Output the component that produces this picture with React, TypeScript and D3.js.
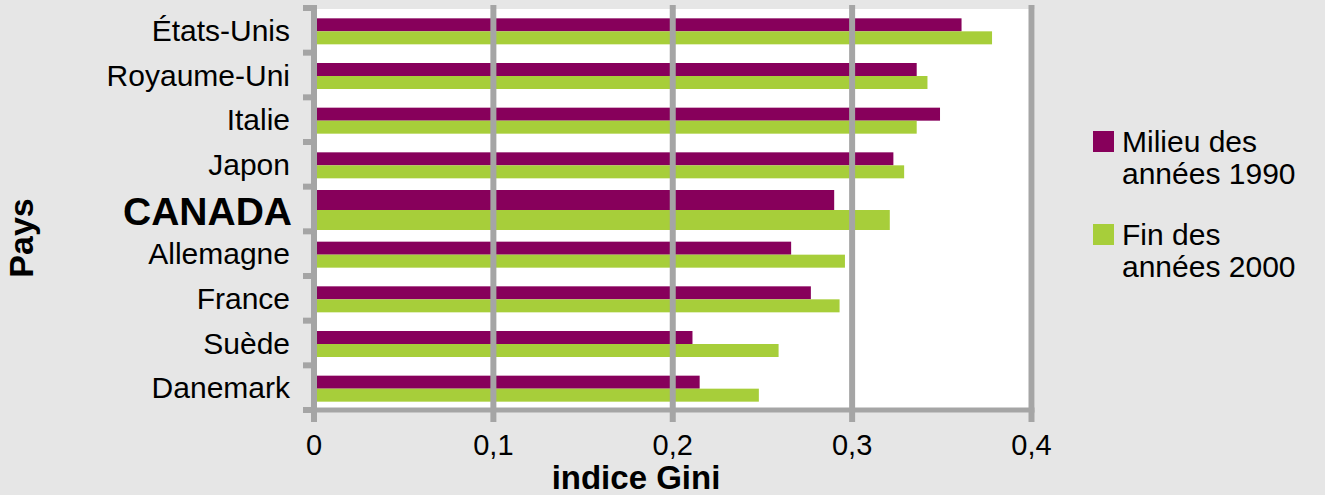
import React, { useEffect, useRef } from 'react';
import * as d3 from 'd3';

const countries = ['États-Unis', 'Royaume-Uni', 'Italie', 'Japon', 'CANADA', 'Allemagne', 'France', 'Suède', 'Danemark'];
const mid1990s = [0.361, 0.336, 0.349, 0.323, 0.290, 0.266, 0.277, 0.211, 0.215];
const late2000s = [0.378, 0.342, 0.336, 0.329, 0.321, 0.296, 0.293, 0.259, 0.248];
const xTicks = [0, 0.1, 0.2, 0.3, 0.4];
const seriesNames = [['Milieu des', 'années 1990'], ['Fin des', 'années 2000']];
const seriesColors = ['#87005b', '#a7ce3a'];

const FONT = '"Liberation Sans", Arial, Helvetica, sans-serif';
const GRID = '#a5a5a5';

const App: React.FC = () => {
  const svgRef = useRef<SVGSVGElement | null>(null);

  useEffect(() => {
    if (!svgRef.current) return;
    const svg = d3.select(svgRef.current);
    svg.selectAll('*').remove();

    const width = 1325;
    const height = 495;
    const left = 314;
    const right = 1031.5;
    const top = 8;
    const bottom = 410;

    svg.append('rect').attr('width', width).attr('height', height).attr('fill', '#e6e6e6');

    const x = d3.scaleLinear().domain([0, 0.4]).range([left, right]);
    const y = d3.scaleBand().domain(countries).range([top, bottom]);

    // plot area
    svg.append('rect')
      .attr('x', left).attr('y', top + 1)
      .attr('width', right - left + 3).attr('height', bottom - top - 1)
      .attr('fill', '#ffffff');

    // bars
    const series = [mid1990s, late2000s];
    countries.forEach((c, i) => {
      const h = c === 'CANADA' ? 20 : 13;
      const cy = (y(c) || 0) + y.bandwidth() / 2 + 1;
      series.forEach((vals, s) => {
        svg.append('rect')
          .attr('x', x(0))
          .attr('y', cy - h + s * h)
          .attr('width', x(vals[i]) - x(0))
          .attr('height', h)
          .attr('fill', seriesColors[s]);
      });
    });

    // vertical gridlines (with ticks below the axis)
    svg.append('g')
      .selectAll('line')
      .data(xTicks.slice(1))
      .join('line')
        .attr('x1', d => x(d)).attr('x2', d => x(d))
        .attr('y1', 5).attr('y2', 422)
        .attr('stroke', GRID).attr('stroke-width', 6);

    // bottom axis line
    svg.append('line')
      .attr('x1', left).attr('x2', right + 3)
      .attr('y1', bottom).attr('y2', bottom)
      .attr('stroke', GRID).attr('stroke-width', 5);

    // left axis line + ticks
    svg.append('line')
      .attr('x1', left).attr('x2', left)
      .attr('y1', 5).attr('y2', 422)
      .attr('stroke', GRID).attr('stroke-width', 6);

    const edges = countries.map(c => y(c) || 0).concat([bottom]);
    svg.append('g')
      .selectAll('line')
      .data(edges)
      .join('line')
        .attr('x1', 303).attr('x2', left)
        .attr('y1', d => d).attr('y2', d => d)
        .attr('stroke', GRID).attr('stroke-width', 6);

    // category labels
    svg.append('g')
      .selectAll('text')
      .data(countries)
      .join('text')
        .attr('x', d => d === 'CANADA' ? 292 : 290)
        .attr('y', d => (y(d) || 0) + y.bandwidth() / 2)
        .attr('dy', d => d === 'CANADA' ? '0.42em' : '0.35em')
        .attr('text-anchor', 'end')
        .attr('font-family', FONT)
        .attr('font-size', d => d === 'CANADA' ? 39 : 30)
        .attr('font-weight', d => d === 'CANADA' ? 'bold' : 'normal')
        .attr('fill', '#000')
        .text(d => d);

    // tick labels
    svg.append('g')
      .selectAll('text')
      .data(xTicks)
      .join('text')
        .attr('x', d => x(d))
        .attr('y', 455)
        .attr('text-anchor', 'middle')
        .attr('font-family', FONT)
        .attr('font-size', 29)
        .attr('fill', '#000')
        .text(d => d3.format('.1~f')(d).replace('.', ','));

    // axis titles
    svg.append('text')
      .attr('x', 636).attr('y', 489)
      .attr('text-anchor', 'middle')
      .attr('font-family', FONT).attr('font-size', 33).attr('font-weight', 'bold')
      .text('indice Gini');

    svg.append('text')
      .attr('transform', 'translate(33,238) rotate(-90)')
      .attr('text-anchor', 'middle')
      .attr('font-family', FONT).attr('font-size', 34).attr('font-weight', 'bold')
      .text('Pays');

    // legend
    const legend = svg.append('g');
    seriesNames.forEach((lines, s) => {
      const base = 152 + s * 93;
      legend.append('rect')
        .attr('x', 1093).attr('y', base - 21)
        .attr('width', 21).attr('height', 21)
        .attr('fill', seriesColors[s]);
      lines.forEach((t, k) => {
        legend.append('text')
          .attr('x', 1122).attr('y', base + k * 31.5)
          .attr('font-family', FONT).attr('font-size', 30)
          .attr('fill', '#000')
          .text(t);
      });
    });
  }, []);

  return (
    <div style={{ position: 'absolute', left: 0, top: 0 }}>
      <svg ref={svgRef} width="1325" height="495" style={{ display: 'block' }}></svg>
    </div>
  );
};

export default App;
